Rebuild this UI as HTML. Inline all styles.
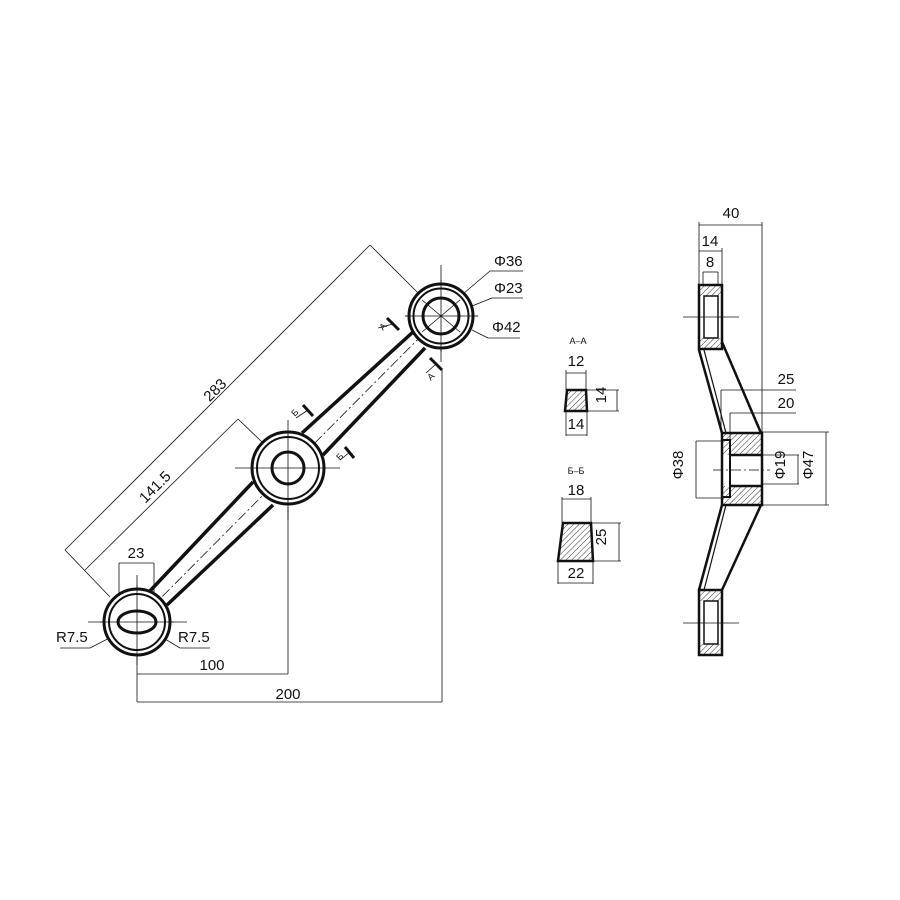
<!DOCTYPE html>
<html><head><meta charset="utf-8"><style>html,body{margin:0;padding:0;background:#fff}svg{display:block}text{font-family:"Liberation Sans",sans-serif;fill:#111}</style></head>
<body>
<svg width="900" height="900" viewBox="0 0 900 900" xmlns="http://www.w3.org/2000/svg">
<defs>
<pattern id="h" width="4" height="4" patternUnits="userSpaceOnUse" patternTransform="rotate(45)"><line x1="0" y1="0" x2="0" y2="4" stroke="#333" stroke-width="1"/></pattern>
</defs>
<g fill="none" stroke="#111">
<!-- dimension thin lines -->
<g stroke-width="0.8">
<line x1="65" y1="550" x2="370" y2="245"/><line x1="370" y1="245" x2="418" y2="293"/><line x1="65" y1="550" x2="110" y2="597"/>
<line x1="85" y1="570" x2="238" y2="419"/><line x1="238" y1="419" x2="262" y2="442"/>
<line x1="119" y1="563" x2="154" y2="563"/><line x1="119" y1="563" x2="119" y2="600"/><line x1="154" y1="563" x2="154" y2="593"/>
<line x1="137" y1="674" x2="288" y2="674"/><line x1="288" y1="507" x2="288" y2="674"/>
<line x1="137" y1="702" x2="442" y2="702"/><line x1="442" y1="370" x2="442" y2="702"/><line x1="137" y1="640" x2="137" y2="702"/>
<polyline points="490,271 523,271"/><line x1="490" y1="271" x2="450" y2="305"/>
<polyline points="492,298 523,298"/><line x1="492" y1="298" x2="472" y2="306"/>
<polyline points="488,338 520,338"/><line x1="488" y1="338" x2="472" y2="330"/>
<line x1="60" y1="648" x2="90" y2="648"/><line x1="90" y1="648" x2="125" y2="630"/>
<line x1="210" y1="648" x2="180" y2="648"/><line x1="180" y1="648" x2="150" y2="630"/>
<!-- centerlines -->
<line x1="405" y1="316" x2="478" y2="316"/><line x1="441" y1="265" x2="441" y2="362"/>
<line x1="235" y1="468" x2="340" y2="468"/><line x1="288" y1="420" x2="288" y2="520"/>
<line x1="88" y1="622" x2="187" y2="622"/><line x1="137" y1="575" x2="137" y2="665"/>
<line x1="137" y1="622" x2="441" y2="316" stroke-dasharray="10,3,2,3"/>
<line x1="415" y1="295" x2="467" y2="337"/><line x1="415" y1="337" x2="467" y2="295"/>
<line x1="110" y1="605" x2="164" y2="639"/><line x1="110" y1="639" x2="164" y2="605"/>
</g>
<!-- arms -->
<g stroke-width="3.5">
<line x1="149" y1="592" x2="253" y2="482"/><line x1="302" y1="433" x2="413" y2="332"/>
<line x1="167" y1="605" x2="273" y2="505"/><line x1="323" y1="455" x2="425" y2="348"/>
</g>
<!-- bosses -->
<g stroke-width="3" fill="#fff">
<circle cx="441" cy="316" r="32"/><circle cx="288" cy="468" r="36"/><circle cx="137" cy="622" r="33"/>
</g>
<g stroke-width="2">
<circle cx="441" cy="316" r="27.5"/><circle cx="288" cy="468" r="31"/><circle cx="137" cy="622" r="28"/>
</g>
<g stroke-width="3">
<circle cx="441" cy="316" r="18"/><circle cx="288" cy="468" r="16"/><ellipse cx="137" cy="622" rx="19" ry="11"/>
</g>
<g stroke-width="0.8">
<line x1="405" y1="316" x2="478" y2="316"/><line x1="441" y1="280" x2="441" y2="352"/>
<line x1="252" y1="468" x2="324" y2="468"/><line x1="288" y1="432" x2="288" y2="504"/>
<line x1="100" y1="622" x2="174" y2="622"/><line x1="137" y1="585" x2="137" y2="659"/>
<line x1="422" y1="300" x2="460" y2="332"/><line x1="422" y1="332" x2="460" y2="300"/>
</g>
<!-- section markers -->
<g stroke-width="3"><line x1="387" y1="318" x2="399" y2="330"/><line x1="430" y1="358" x2="442" y2="370"/><line x1="303" y1="405" x2="313" y2="416"/><line x1="345" y1="447" x2="354" y2="458"/></g>
<g stroke-width="0.8"><line x1="378" y1="328" x2="393" y2="324"/><line x1="426" y1="373" x2="436" y2="364"/><line x1="296" y1="418" x2="308" y2="410"/><line x1="340" y1="460" x2="350" y2="452"/></g>

<!-- side view -->
<g stroke-width="0.8">
<line x1="699" y1="225" x2="762" y2="225"/><line x1="699" y1="222" x2="699" y2="285"/><line x1="762" y1="222" x2="762" y2="433"/>
<line x1="699" y1="251" x2="722" y2="251"/><line x1="722" y1="248" x2="722" y2="285"/>
<line x1="703" y1="272" x2="718" y2="272"/><line x1="703" y1="272" x2="703" y2="285"/><line x1="718" y1="272" x2="718" y2="285"/>
<line x1="683" y1="317" x2="739" y2="317"/><line x1="683" y1="623" x2="739" y2="623"/>
<line x1="721" y1="390" x2="796" y2="390"/><line x1="721" y1="390" x2="721" y2="433"/>
<line x1="730" y1="413" x2="796" y2="413"/><line x1="730" y1="413" x2="730" y2="440"/>
<line x1="696" y1="441" x2="722" y2="441"/><line x1="696" y1="498" x2="722" y2="498"/><line x1="696" y1="441" x2="696" y2="498"/>
<line x1="762" y1="455" x2="799" y2="455"/><line x1="762" y1="484" x2="799" y2="484"/><line x1="798" y1="455" x2="798" y2="484"/>
<line x1="762" y1="432" x2="829" y2="432"/><line x1="762" y1="505" x2="829" y2="505"/><line x1="826" y1="432" x2="826" y2="505"/>
<line x1="713" y1="470" x2="770" y2="470" stroke-dasharray="10,3,2,3"/>
</g>
<rect x="699" y="285" width="23" height="11" fill="url(#h)" stroke="none"/>
<rect x="699" y="338" width="23" height="11" fill="url(#h)" stroke="none"/>
<rect x="699" y="590" width="23" height="11" fill="url(#h)" stroke="none"/>
<rect x="699" y="644" width="23" height="11" fill="url(#h)" stroke="none"/>
<rect x="722" y="433" width="40" height="22" fill="url(#h)" stroke="none"/>
<rect x="722" y="486" width="40" height="19" fill="url(#h)" stroke="none"/>
<g stroke-width="2.5">
<rect x="699" y="285" width="23" height="64"/><rect x="704" y="296" width="14" height="42" stroke-width="1.5"/>
<rect x="699" y="590" width="23" height="65"/><rect x="704" y="601" width="14" height="43" stroke-width="1.5"/>
<rect x="722" y="433" width="40" height="72"/>
<line x1="730" y1="455" x2="762" y2="455"/><line x1="730" y1="486" x2="762" y2="486"/>
<rect x="722" y="440" width="8" height="57" stroke-width="2"/>
<line x1="699" y1="350" x2="722" y2="433"/><line x1="722" y1="342" x2="761" y2="433"/>
<line x1="722" y1="505" x2="699" y2="590"/><line x1="761" y1="505" x2="722" y2="590"/>
</g>
<g stroke-width="1.2"><line x1="704" y1="350" x2="726" y2="433"/><line x1="726" y1="505" x2="704" y2="590"/></g>

<!-- sections -->
<g stroke-width="0.8">
<line x1="566" y1="373" x2="586" y2="373"/><line x1="566" y1="370" x2="566" y2="390"/><line x1="586" y1="370" x2="586" y2="390"/>
<line x1="587" y1="390" x2="619" y2="390"/><line x1="587" y1="411" x2="619" y2="411"/><line x1="617" y1="390" x2="617" y2="411"/>
<line x1="566" y1="411" x2="566" y2="436"/><line x1="587" y1="411" x2="587" y2="436"/><line x1="566" y1="435" x2="587" y2="435"/>
<line x1="562" y1="499" x2="591" y2="499"/><line x1="562" y1="497" x2="562" y2="523"/><line x1="591" y1="497" x2="591" y2="523"/>
<line x1="591" y1="523" x2="621" y2="523"/><line x1="593" y1="561" x2="621" y2="561"/><line x1="619" y1="523" x2="619" y2="561"/>
<line x1="558" y1="561" x2="558" y2="584"/><line x1="593" y1="561" x2="593" y2="584"/><line x1="558" y1="583" x2="593" y2="583"/>
</g>
<polygon points="567,390 586,390 587,411 565,411" fill="url(#h)" stroke-width="2.5"/>
<polygon points="563,523 591,523 593,561 558,561" fill="url(#h)" stroke-width="2.5"/>
</g>

<g font-size="15">
<text x="215" y="395" transform="rotate(-45 215 390)" text-anchor="middle">283</text>
<text x="155" y="492" transform="rotate(-45 155 487)" text-anchor="middle">141.5</text>
<text x="136" y="558" text-anchor="middle">23</text>
<text x="212" y="670" text-anchor="middle">100</text>
<text x="288" y="699" text-anchor="middle">200</text>
<text x="56" y="642">R7.5</text>
<text x="178" y="642">R7.5</text>
<text x="494" y="266">Φ36</text>
<text x="494" y="293">Φ23</text>
<text x="492" y="332">Φ42</text>
<text x="731" y="218" text-anchor="middle">40</text>
<text x="710" y="246" text-anchor="middle">14</text>
<text x="710" y="267" text-anchor="middle">8</text>
<text x="786" y="384" text-anchor="middle">25</text>
<text x="786" y="408" text-anchor="middle">20</text>
<text x="688" y="470" transform="rotate(-90 683 470)" text-anchor="middle">Φ38</text>
<text x="790" y="470" transform="rotate(-90 785 470)" text-anchor="middle">Φ19</text>
<text x="818" y="470" transform="rotate(-90 813 470)" text-anchor="middle">Φ47</text>
<text x="576" y="366" text-anchor="middle">12</text>
<text x="611" y="400" transform="rotate(-90 606 400)" text-anchor="middle">14</text>
<text x="576" y="429" text-anchor="middle">14</text>
<text x="576" y="495" text-anchor="middle">18</text>
<text x="611" y="542" transform="rotate(-90 606 542)" text-anchor="middle">25</text>
<text x="576" y="578" text-anchor="middle">22</text>
</g>
<g font-size="9">
<text x="578" y="344" text-anchor="middle">А–А</text>
<text x="576" y="474" text-anchor="middle">Б–Б</text>
<text x="380" y="332" transform="rotate(-45 380 328)">А</text>
<text x="428" y="382" transform="rotate(-45 428 378)">А</text>
<text x="292" y="418" transform="rotate(-45 292 414)">Б</text>
<text x="337" y="462" transform="rotate(-45 337 458)">Б</text>
</g>
</svg>
</body></html>
